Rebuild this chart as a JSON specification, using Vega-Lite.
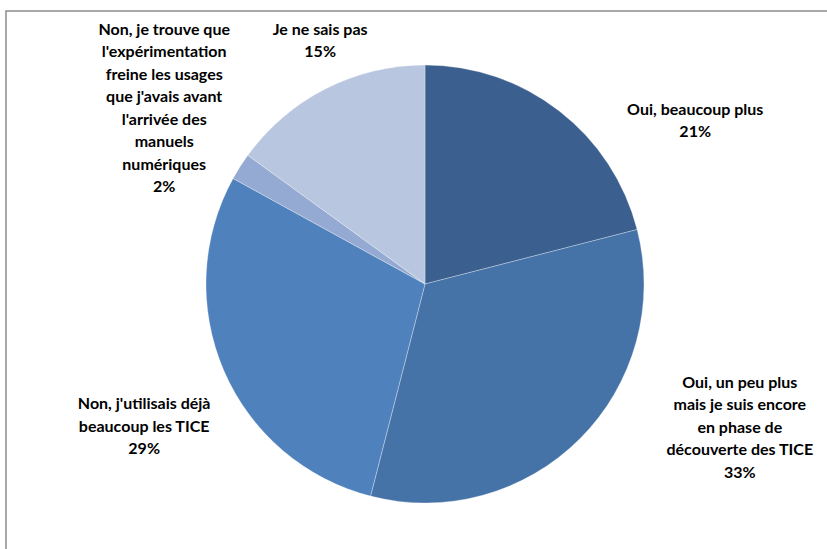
{
  "$schema": "https://vega.github.io/schema/vega-lite/v6.json",
  "width": 838,
  "height": 546,
  "autosize": {"type": "none"},
  "padding": {"left": 6, "top": 11, "right": 0, "bottom": 0},
  "background": "white",
  "view": {"stroke": "#8c8c8c", "strokeWidth": 1.5},
  "config": {"view": {"stroke": "#8c8c8c", "strokeWidth": 1.5}},
  "data": {
    "values": [
      {"ord": 1, "cat": "Oui, beaucoup plus", "value": 21, "label": "Oui, beaucoup plus\n21%"},
      {"ord": 2, "cat": "Oui, un peu plus", "value": 33, "label": "Oui, un peu plus\nmais je suis encore\nen phase de\ndécouverte des TICE\n33%"},
      {"ord": 3, "cat": "Non, j'utilisais déjà", "value": 29, "label": "Non, j'utilisais déjà\nbeaucoup les TICE\n29%"},
      {"ord": 4, "cat": "Non, je trouve que", "value": 2, "label": "Non, je trouve que\nl'expérimentation\nfreine  les usages\nque j'avais avant\nl'arrivée des\nmanuels\nnumériques\n2%"},
      {"ord": 5, "cat": "Je ne sais pas", "value": 15, "label": "Je ne sais pas\n15%"}
    ]
  },
  "layer": [
    {
      "mark": {"type": "arc", "radius": 219, "stroke": "#ffffff", "strokeWidth": 0.6, "strokeOpacity": 0.5},
      "encoding": {
        "theta": {"field": "value", "type": "quantitative", "stack": true},
        "order": {"field": "ord", "type": "quantitative", "sort": "ascending"},
        "color": {
          "field": "cat",
          "type": "nominal",
          "sort": null,
          "scale": {
            "domain": ["Oui, beaucoup plus", "Oui, un peu plus", "Non, j'utilisais déjà", "Non, je trouve que", "Je ne sais pas"],
            "range": ["#3b5f8f", "#4573a8", "#4f81bd", "#94aad2", "#b9c6e0"]
          },
          "legend": null
        }
      }
    },
    {
      "mark": {"type": "text", "radius": 294, "dx": 90, "dy": 58, "align": "center", "baseline": "middle", "lineBreak": "\n", "lineHeight": 22.5, "font": "Lato", "fontWeight": "bold", "fontSize": 16, "color": "#000000"},
      "encoding": {
        "theta": {"field": "value", "type": "quantitative", "stack": true},
        "order": {"field": "ord", "type": "quantitative", "sort": "ascending"},
        "detail": {"field": "cat", "type": "nominal"},
        "text": {"condition": {"test": "datum.cat === 'Oui, beaucoup plus'", "field": "label"}, "value": ""}
      }
    },
    {
      "mark": {"type": "text", "radius": 325, "dx": 85, "dy": -131, "align": "center", "baseline": "middle", "lineBreak": "\n", "lineHeight": 22.5, "font": "Lato", "fontWeight": "bold", "fontSize": 16, "color": "#000000"},
      "encoding": {
        "theta": {"field": "value", "type": "quantitative", "stack": true},
        "order": {"field": "ord", "type": "quantitative", "sort": "ascending"},
        "detail": {"field": "cat", "type": "nominal"},
        "text": {"condition": {"test": "datum.cat === 'Oui, un peu plus'", "field": "label"}, "value": ""}
      }
    },
    {
      "mark": {"type": "text", "radius": 318, "dx": 11, "dy": -6, "align": "center", "baseline": "middle", "lineBreak": "\n", "lineHeight": 22.5, "font": "Lato", "fontWeight": "bold", "fontSize": 16, "color": "#000000"},
      "encoding": {
        "theta": {"field": "value", "type": "quantitative", "stack": true},
        "order": {"field": "ord", "type": "quantitative", "sort": "ascending"},
        "detail": {"field": "cat", "type": "nominal"},
        "text": {"condition": {"test": "datum.cat === \"Non, j'utilisais déjà\"", "field": "label"}, "value": ""}
      }
    },
    {
      "mark": {"type": "text", "radius": 316, "dx": 6, "dy": -85, "align": "center", "baseline": "middle", "lineBreak": "\n", "lineHeight": 22.5, "font": "Lato", "fontWeight": "bold", "fontSize": 16, "color": "#000000"},
      "encoding": {
        "theta": {"field": "value", "type": "quantitative", "stack": true},
        "order": {"field": "ord", "type": "quantitative", "sort": "ascending"},
        "detail": {"field": "cat", "type": "nominal"},
        "text": {"condition": {"test": "datum.cat === 'Non, je trouve que'", "field": "label"}, "value": ""}
      }
    },
    {
      "mark": {"type": "text", "radius": 264, "dx": 15, "dy": -19, "align": "center", "baseline": "middle", "lineBreak": "\n", "lineHeight": 22.5, "font": "Lato", "fontWeight": "bold", "fontSize": 16, "color": "#000000"},
      "encoding": {
        "theta": {"field": "value", "type": "quantitative", "stack": true},
        "order": {"field": "ord", "type": "quantitative", "sort": "ascending"},
        "detail": {"field": "cat", "type": "nominal"},
        "text": {"condition": {"test": "datum.cat === 'Je ne sais pas'", "field": "label"}, "value": ""}
      }
    }
  ]
}
